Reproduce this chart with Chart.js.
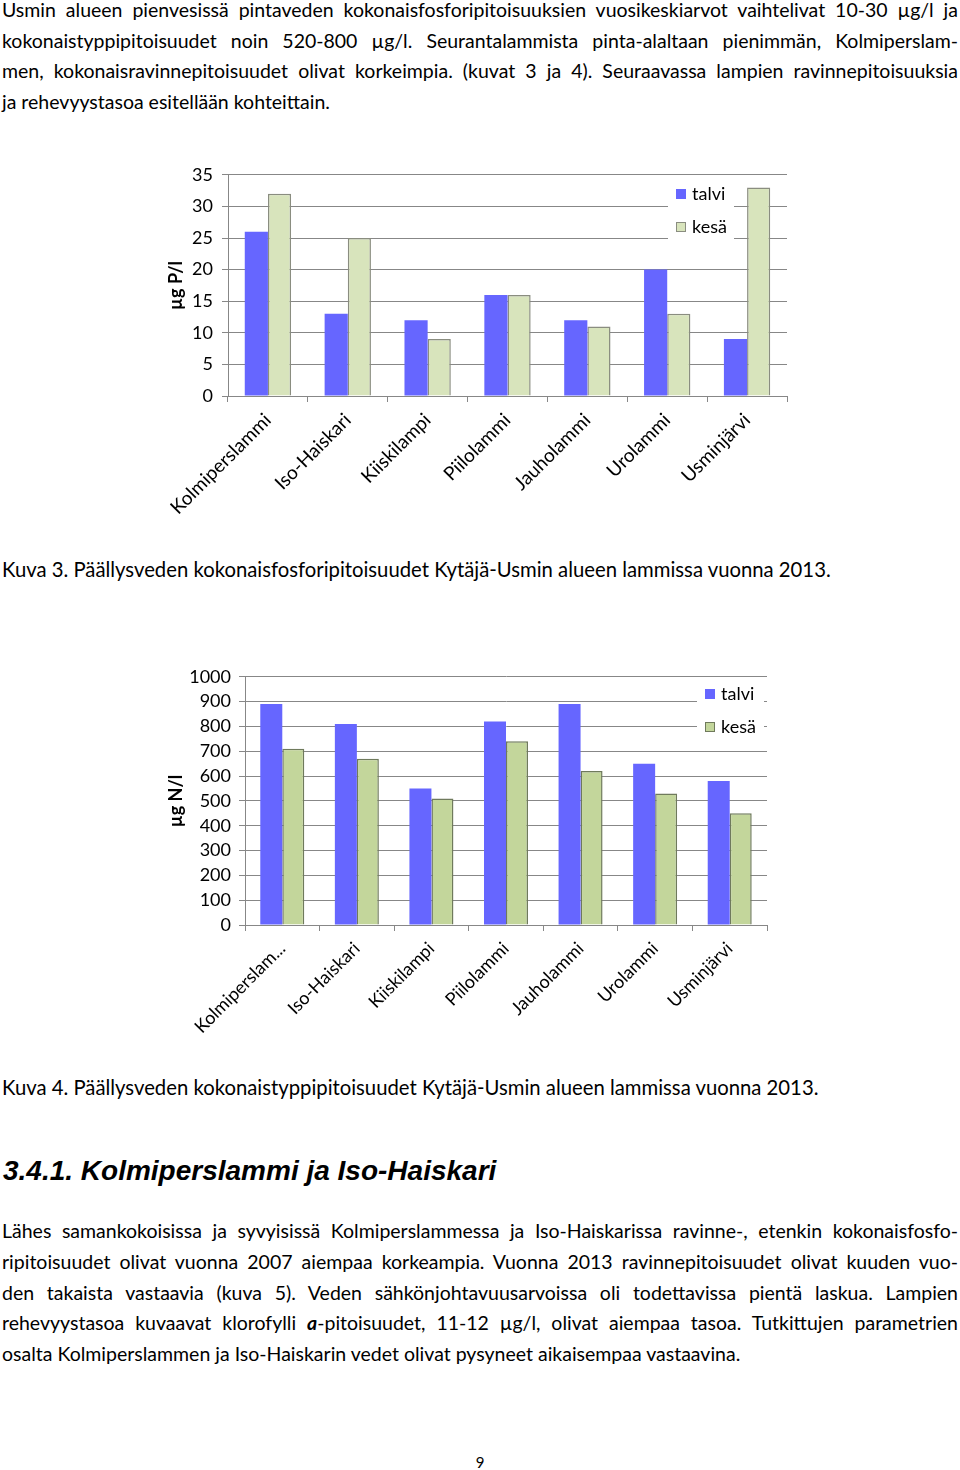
<!DOCTYPE html>
<html>
<head>
<meta charset="utf-8">
<script src="https://cdn.jsdelivr.net/npm/chart.js@4/dist/chart.umd.min.js"></script>
<style>
  body { margin:0; width:960px; height:1470px; background:#fff; position:relative; overflow:hidden; font-family:Lato, "Open Sans", sans-serif; color:#000; }
  .t { position:absolute; left:2px; width:956px; font-size:20.3px; }
  .j { font-size:19.5px; }
  .j div { white-space:nowrap; text-align:justify; text-align-last:justify; }
  .j div.last { text-align-last:left; }
  h3 { position:absolute; margin:0; left:3px; top:1153px; line-height:36px; font-family:"Liberation Sans", Arial, sans-serif; font-weight:bold; font-style:italic; font-size:28px; }
  canvas { position:absolute; }
</style>
</head>
<body>

<div class="t j" style="top:-5px;line-height:30.5px">
  <div>Usmin alueen pienvesissä pintaveden kokonaisfosforipitoisuuksien vuosikeskiarvot vaihtelivat 10-30 µg/l ja</div>
  <div>kokonaistyppipitoisuudet noin 520-800 µg/l. Seurantalammista pinta-alaltaan pienimmän, Kolmiperslam-</div>
  <div>men, kokonaisravinnepitoisuudet olivat korkeimpia. (kuvat 3 ja 4). Seuraavassa lampien ravinnepitoisuuksia</div>
  <div class="last">ja rehevyystasoa esitellään kohteittain.</div>
</div>

<canvas id="kuva3" width="640" height="375" style="left:160px;top:155px;width:640px;height:375px"></canvas>

<div class="t" style="top:554px;line-height:30px">Kuva 3. Päällysveden kokonaisfosforipitoisuudet Kytäjä-Usmin alueen lammissa vuonna 2013.</div>

<canvas id="kuva4" width="620" height="382" style="left:160px;top:658px;width:620px;height:382px"></canvas>

<div class="t" style="top:1072px;line-height:30px">Kuva 4. Päällysveden kokonaistyppipitoisuudet Kytäjä-Usmin alueen lammissa vuonna 2013.</div>

<h3>3.4.1. Kolmiperslammi ja Iso-Haiskari</h3>

<div class="t j" style="top:1216px;line-height:30.75px">
  <div>Lähes samankokoisissa ja syvyisissä Kolmiperslammessa ja Iso-Haiskarissa ravinne-, etenkin kokonaisfosfo-</div>
  <div>ripitoisuudet olivat vuonna 2007 aiempaa korkeampia. Vuonna 2013 ravinnepitoisuudet olivat kuuden vuo-</div>
  <div>den takaista vastaavia (kuva 5). Veden sähkönjohtavuusarvoissa oli todettavissa pientä laskua. Lampien</div>
  <div>rehevyystasoa kuvaavat klorofylli <b><i>a</i></b>-pitoisuudet, 11-12 µg/l, olivat aiempaa tasoa. Tutkittujen parametrien</div>
  <div class="last">osalta Kolmiperslammen ja Iso-Haiskarin vedet olivat pysyneet aikaisempaa vastaavina.</div>
</div>

<div style="position:absolute;left:0;width:960px;top:1452px;line-height:20px;font-size:15px;text-align:center">9</div>

<script>
// lammet ja arvot luettu kuvista
const lammet = ['Kolmiperslammi', 'Iso-Haiskari', 'Kiiskilampi', 'Piilolammi', 'Jauholammi', 'Urolammi', 'Usminjärvi'];
const lammetN = ['Kolmiperslam...', 'Iso-Haiskari', 'Kiiskilampi', 'Piilolammi', 'Jauholammi', 'Urolammi', 'Usminjärvi'];

const fosforiTalvi = [26, 13, 12, 16, 12, 20, 9];
const fosforiKesa  = [32, 25, 9, 16, 11, 13, 33];

const typpiTalvi = [890, 810, 550, 820, 890, 650, 580];
const typpiKesa  = [710, 670, 510, 740, 620, 530, 450];

const harmaa = '#878787';
const fontti = 'Lato';

// selite piirretään kaavion sisään valkoiselle pohjalle
const selite = {
  id: 'selite',
  afterDatasetsDraw(chart, args, o) {
    const c = chart.ctx;
    c.save();
    c.fillStyle = '#fff';
    c.fillRect(o.x, o.y, o.w, o.h);
    chart.data.datasets.forEach((ds, i) => {
      const y = o.y1 + i * 33;
      c.fillStyle = ds.backgroundColor;
      c.fillRect(o.mx, y - 5, 10, 10);
      if (ds.borderWidth) {
        c.strokeStyle = ds.borderColor; c.lineWidth = 1;
        c.strokeRect(o.mx + 0.5, y - 4.5, 9, 9);
      }
      c.fillStyle = '#000';
      c.font = '18px ' + fontti;
      c.textBaseline = 'middle';
      c.fillText(ds.label, o.mx + 16, y);
    });
    c.restore();
  }
};

function asetukset(yMax, askel, otsikko, yLeveys, xKorkeus, ylä, tikkiVali, xFontti, sel) {
  return {
    responsive: false,
    animation: false,
    layout: { padding: { top: ylä, right: 13, left: 0, bottom: 0 } },
    plugins: { legend: { display: false }, tooltip: { enabled: false }, selite: sel },
    scales: {
      x: {
        grid: { offset: true, drawOnChartArea: false, drawTicks: true, tickLength: 6, color: harmaa },
        border: { color: harmaa },
        ticks: { minRotation: 45, maxRotation: 45, autoSkip: false, color: '#000', font: { family: fontti, size: xFontti }, padding: 7 },
        afterFit(s) { s.height = xKorkeus; }
      },
      y: {
        min: 0, max: yMax,
        ticks: { stepSize: askel, color: '#000', font: { family: fontti, size: 18 }, padding: tikkiVali, callback: v => String(v) },
        grid: { color: harmaa, tickLength: 6 },
        border: { color: harmaa },
        title: { display: true, text: otsikko, color: '#000', font: { family: fontti, size: 18, weight: 'bold' }, padding: { top: 5, bottom: 0 } },
        afterFit(s) { s.width = yLeveys; }
      }
    }
  };
}

new Chart(document.getElementById('kuva3'), {
  type: 'bar',
  data: {
    labels: lammet,
    datasets: [
      { label: 'talvi', data: fosforiTalvi, backgroundColor: '#6666ff', borderWidth: 0, categoryPercentage: 0.58, barPercentage: 1 },
      { label: 'kesä', data: fosforiKesa, backgroundColor: '#d8e4bc', borderColor: '#8a8d80', borderWidth: 1.5, categoryPercentage: 0.58, barPercentage: 1 }
    ]
  },
  options: asetukset(35, 5, 'µg P/l', 68, 134, 10, 9, 19, { x: 508, y: 30, w: 66, h: 61, mx: 516, y1: 39 }),
  plugins: [selite]
});

new Chart(document.getElementById('kuva4'), {
  type: 'bar',
  data: {
    labels: lammetN,
    datasets: [
      { label: 'talvi', data: typpiTalvi, backgroundColor: '#6666ff', borderWidth: 0, categoryPercentage: 0.59, barPercentage: 1 },
      { label: 'kesä', data: typpiKesa, backgroundColor: '#c3d69b', borderColor: '#6f7a5c', borderWidth: 1.5, categoryPercentage: 0.59, barPercentage: 1 }
    ]
  },
  options: asetukset(1000, 100, 'µg N/l', 85, 115, 14, 8, 18, { x: 537, y: 26, w: 67, h: 58, mx: 545, y1: 36 }),
  plugins: [selite]
});
</script>
</body>
</html>
